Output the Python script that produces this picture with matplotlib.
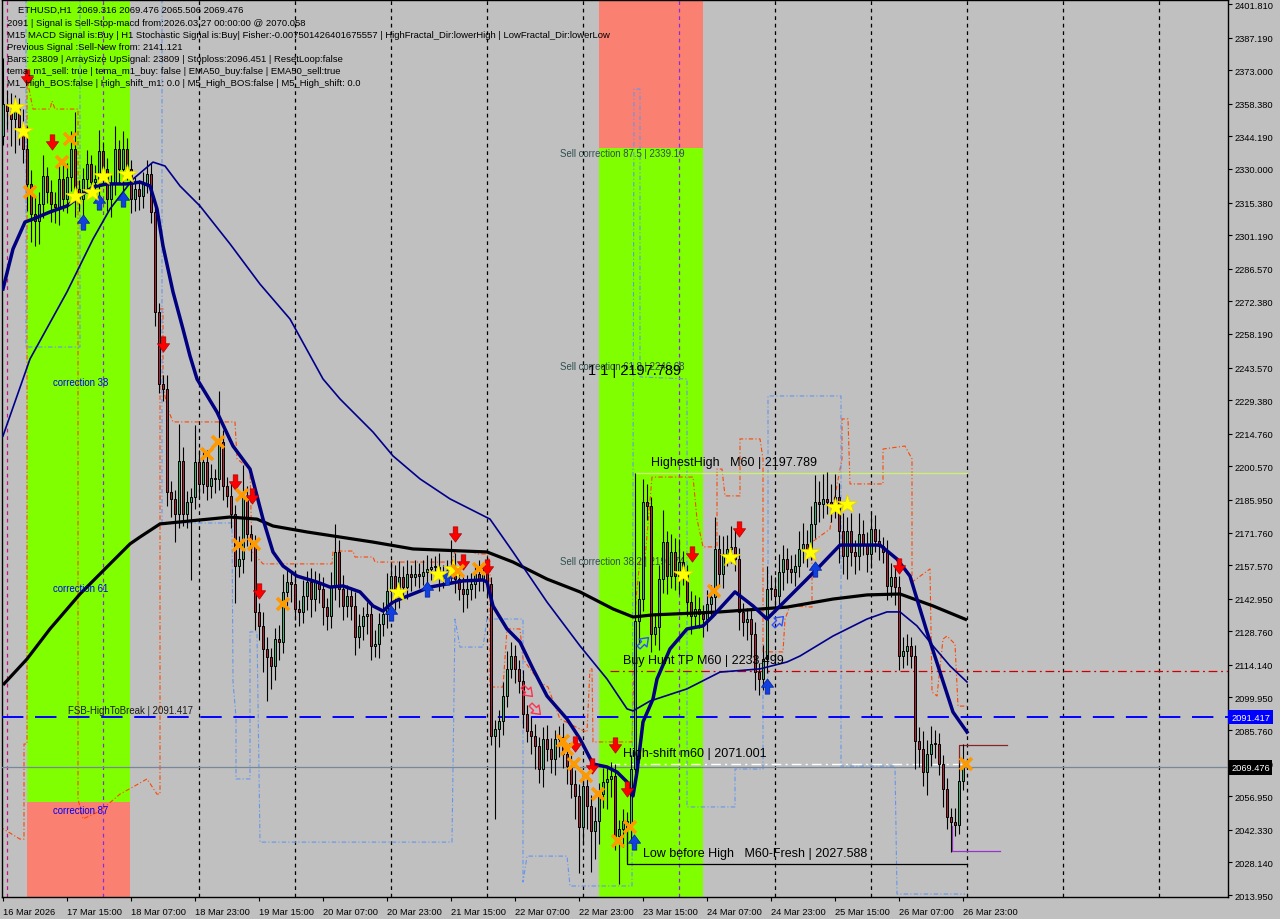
import numpy as np
import matplotlib
matplotlib.use("Agg")
import matplotlib.pyplot as plt
from matplotlib.patches import Rectangle
from matplotlib.path import Path
from matplotlib.markers import MarkerStyle
from matplotlib.transforms import Affine2D, blended_transform_factory

plt.rcParams['font.family'] = ['Liberation Sans', 'DejaVu Sans']

# ---------------- data ----------------
x_tick_bars = [0, 16, 32, 48, 64, 80, 96, 112, 128, 144, 160, 176, 192, 208, 224, 240]
x_tick_labels = ['16 Mar 2026', '17 Mar 15:00', '18 Mar 07:00', '18 Mar 23:00', '19 Mar 15:00',
                 '20 Mar 07:00', '20 Mar 23:00', '21 Mar 15:00', '22 Mar 07:00', '22 Mar 23:00',
                 '23 Mar 15:00', '24 Mar 07:00', '24 Mar 23:00', '25 Mar 15:00', '26 Mar 07:00',
                 '26 Mar 23:00']
price_ticks = [2401.81, 2387.19, 2373.00, 2358.38, 2344.19, 2330.00, 2315.38, 2301.19, 2286.57,
               2272.38, 2258.19, 2243.57, 2229.38, 2214.76, 2200.57, 2185.95, 2171.76, 2157.57,
               2142.95, 2128.76, 2114.14, 2099.95, 2085.76, 2071.14, 2056.95, 2042.33, 2028.14,
               2013.95]

first_open = 2344.4
closes = [
    2358.3, 2355.2, 2351.8, 2356.1, 2348.3, 2338.7, 2323.5, 2310.4, 2307.4, 2314.8,
    2327.0, 2320.0, 2314.8, 2313.5, 2325.6, 2316.9, 2326.5, 2338.7, 2321.3, 2316.9,
    2325.6, 2332.2, 2324.3, 2325.6, 2337.8, 2330.0, 2316.9, 2323.5, 2338.7, 2330.0,
    2338.7, 2330.0, 2316.9, 2321.3, 2318.2, 2323.5, 2327.8, 2311.3, 2267.8, 2236.4,
    2234.2, 2189.4, 2186.3, 2179.8, 2202.9, 2179.8, 2185.0, 2187.2, 2202.5, 2192.9,
    2202.5, 2192.0, 2195.5, 2195.1, 2211.2, 2192.0, 2187.7, 2179.8, 2157.2, 2160.2,
    2187.2, 2171.1, 2165.5, 2137.2, 2131.1, 2121.1, 2117.6, 2113.7, 2125.4, 2124.1,
    2145.9, 2150.2, 2149.3, 2138.5, 2137.2, 2144.1, 2150.2, 2142.8, 2150.2, 2147.2,
    2139.3, 2135.4, 2148.5, 2163.3, 2147.2, 2139.8, 2144.1, 2139.8, 2126.3, 2131.1,
    2135.4, 2136.3, 2122.4, 2123.2, 2131.9, 2136.3, 2146.3, 2152.8, 2144.1, 2152.4,
    2148.0, 2153.7, 2152.4, 2153.7, 2152.8, 2154.6, 2155.9, 2156.7, 2156.7, 2152.4,
    2153.7, 2155.0, 2156.7, 2151.5, 2147.2, 2145.0, 2147.2, 2149.3, 2153.7, 2151.5,
    2153.7, 2149.3, 2083.2, 2086.2, 2089.7, 2100.6, 2112.3, 2118.0, 2112.3, 2107.1,
    2092.8, 2085.4, 2083.2, 2078.8, 2068.8, 2081.9, 2077.5, 2073.2, 2081.9, 2082.7,
    2075.3, 2070.1, 2062.3, 2057.1, 2043.6, 2061.4, 2052.7, 2041.8, 2046.2, 2057.9,
    2063.2, 2064.5, 2065.8, 2039.7, 2042.7, 2046.2, 2042.7, 2068.8, 2133.2, 2142.8,
    2185.0, 2183.3, 2127.6, 2130.6, 2151.5, 2167.6, 2152.8, 2163.3, 2152.8, 2158.9,
    2153.7, 2141.5, 2135.4, 2138.5, 2136.3, 2134.1, 2140.6, 2143.7, 2164.6, 2153.7,
    2162.4, 2164.6, 2165.5, 2160.2, 2137.2, 2132.8, 2134.1, 2127.6, 2111.0, 2108.0,
    2116.7, 2147.2, 2147.2, 2144.1, 2154.6, 2160.2, 2155.9, 2154.6, 2157.2, 2164.6,
    2166.8, 2164.6, 2175.5, 2185.0, 2184.2, 2186.3, 2185.0, 2184.2, 2187.2, 2172.4,
    2161.5, 2172.4, 2163.3, 2161.5, 2171.1, 2166.8, 2162.4, 2173.3, 2168.1, 2165.9,
    2163.3, 2148.5, 2152.4, 2148.0, 2118.0, 2120.2, 2122.4, 2118.0, 2081.0, 2077.5,
    2067.5, 2075.3, 2079.7, 2079.7, 2071.0, 2060.1, 2047.9, 2045.7, 2044.5, 2063.6,
    2069.5]
upper_wick = [
    20, 6, 8, 6, 5, 8, 10, 6, 8, 5, 9, 4, 5, 5, 7, 8, 6, 8, 16, 4,
    5, 6, 4, 6, 9, 4, 5, 4, 10, 4, 8, 5, 4, 5, 4, 5, 6, 5, 3, 4,
    4, 6, 5, 4, 16, 6, 5, 4, 16, 5, 6, 5, 6, 4, 22, 5, 4, 5, 4, 10,
    14, 5, 4, 5, 4, 6, 5, 4, 5, 6, 8, 6, 5, 6, 4, 7, 5, 6, 5, 4,
    5, 4, 6, 12, 5, 6, 5, 4, 6, 5, 4, 5, 4, 6, 5, 5, 8, 6, 5, 7,
    5, 6, 4, 6, 5, 5, 6, 4, 5, 6, 4, 5, 12, 6, 4, 5, 6, 5, 4, 6,
    5, 4, 3, 4, 5, 6, 8, 6, 5, 4, 5, 4, 6, 5, 4, 5, 6, 5, 4, 5,
    6, 4, 5, 6, 5, 6, 4, 5, 6, 5, 6, 5, 6, 5, 4, 5, 4, 6, 64.6, 8,
    10, 8, 4, 6, 6, 14, 5, 8, 6, 10, 5, 4, 5, 6, 5, 4, 6, 5, 14, 6,
    8, 6, 9, 8, 5, 4, 5, 4, 5, 4, 6, 10, 6, 5, 8, 6, 5, 6, 5, 8,
    9, 6, 8, 12, 9, 11, 12, 8, 10, 6, 8, 6, 8, 5, 9, 6, 5, 8, 6, 5,
    4, 5, 6, 5, 5, 6, 5, 4, 5, 6, 8, 6, 8, 6, 5, 4, 5, 4, 6, 8,
    10]
lower_wick = [
    4, 8, 12, 15, 8, 6, 12, 12, 11, 10, 6, 5, 8, 7, 8, 5, 6, 6, 12, 5,
    8, 6, 6, 5, 8, 6, 5, 8, 5, 6, 10, 5, 6, 5, 6, 5, 4, 5, 6, 4,
    5, 6, 8, 12, 6, 5, 6, 34, 5, 6, 4, 6, 5, 6, 5, 6, 5, 6, 16, 5,
    6, 5, 6, 8, 6, 10, 19, 10, 6, 8, 5, 6, 8, 5, 6, 5, 6, 8, 5, 6,
    8, 6, 5, 6, 8, 6, 5, 6, 8, 5, 6, 8, 6, 5, 6, 5, 6, 5, 6, 5,
    4, 5, 6, 4, 5, 4, 6, 5, 4, 6, 5, 4, 5, 6, 5, 8, 6, 5, 6, 5,
    5, 6, 4, 36, 8, 6, 5, 4, 6, 5, 6, 5, 8, 10, 6, 8, 5, 6, 7, 8,
    6, 8, 6, 10, 20, 8, 10, 18, 12, 10, 6, 12, 8, 6, 21, 8, 14, 6, 8, 10,
    5, 6, 8, 5, 10, 6, 8, 5, 6, 8, 5, 6, 8, 5, 6, 8, 5, 6, 8, 5,
    6, 5, 6, 5, 8, 6, 8, 10, 8, 7, 5, 6, 5, 6, 5, 8, 6, 5, 6, 5,
    6, 8, 5, 6, 8, 6, 5, 8, 6, 14, 8, 10, 6, 8, 6, 5, 8, 6, 5, 6,
    5, 6, 5, 8, 6, 5, 6, 5, 12, 8, 6, 10, 5, 6, 5, 8, 5, 13, 5, 4,
    4]

# moving averages (bar index, price)
ema_fast_bar = [0, 2.5, 5.5, 7.5, 11.75, 16, 19.25, 22.5, 26, 31, 34.25, 36.75, 38.5, 40, 42.5, 45,
                46.75, 48.5, 53.5, 57.5, 61.75, 65, 67.5, 70, 73.5, 78.5, 81.75, 85, 89.25, 92.5,
                95, 97.5, 99.25, 106.75, 115, 120, 121, 122.5, 126, 129.25, 132.5, 136, 141,
                144.25, 147.5, 151, 153.5, 156, 157.5, 158.5, 160, 162.5, 163.5, 166.75, 171, 175,
                177.5, 183, 187.5, 191, 196, 201, 204.25, 209.25, 219.25, 223.5, 226.75, 229.25,
                231, 234.25, 237.5, 241]
ema_fast_val = [2277.8, 2295.2, 2306.9, 2308.2, 2311.3, 2313.9, 2318.2, 2322.2, 2323.5, 2323.5,
                2324.3, 2322.6, 2312.6, 2296.5, 2276.5, 2260.3, 2248.6, 2238.6, 2224.2, 2209.4,
                2199.4, 2177.6, 2163.3, 2157.2, 2152.8, 2150.2, 2148.0, 2148.5, 2145.9, 2139.8,
                2137.6, 2141.5, 2142.8, 2148.0, 2150.7, 2151.1, 2150.2, 2139.8, 2129.8, 2124.1,
                2112.4, 2100.6, 2090.6, 2081.9, 2071.0, 2069.7, 2067.5, 2063.2, 2057.1, 2067.5,
                2089.3, 2099.3, 2108.0, 2121.1, 2129.8, 2131.1, 2135.4, 2145.9, 2139.8, 2134.1,
                2142.8, 2151.5, 2157.2, 2166.3, 2166.3, 2160.2, 2152.8, 2138.5, 2128.5, 2111.0,
                2093.6, 2084.9]
ema_mid_bar = [0, 6.75, 16, 22.5, 26.75, 32.5, 37.5, 40.5, 44.25, 49.25, 56.75, 64.25, 71.75, 80,
               84.25, 92.5, 97.5, 104.25, 111.75, 121.75, 127.5, 136, 144.25, 151, 156, 157.5,
               161.75, 171, 179.25, 189.25, 196, 199.25, 207.5, 216, 221, 224.25, 228.5, 232.5,
               236.75, 241]
ema_mid_val = [2213.8, 2247.3, 2276.5, 2299.5, 2312.6, 2325.6, 2333.0, 2331.3, 2322.6, 2313.9,
               2297.4, 2279.9, 2264.7, 2238.6, 2229.9, 2215.5, 2205.1, 2195.1, 2186.4, 2177.6,
               2163.3, 2141.5, 2122.4, 2108.0, 2095.0, 2094.1, 2098.4, 2103.7, 2111.0, 2112.4,
               2115.4, 2118.0, 2126.7, 2134.1, 2137.2, 2137.2, 2131.1, 2122.4, 2113.7, 2106.7]
ma_slow_bar = [0, 6, 11.75, 19.25, 26.75, 31.75, 34.25, 39.25, 46.75, 56.75, 63.5, 67.5, 76, 84.25,
               92.5, 102.5, 121, 127.5, 136, 144.25, 152.5, 157.5, 162.5, 179.25, 196, 207.5, 216,
               224.25, 232.5, 241]
ma_slow_val = [2105.4, 2116.7, 2129.8, 2145.0, 2158.1, 2166.8, 2169.8, 2175.5, 2176.8, 2178.5,
               2177.6, 2174.6, 2172.0, 2169.8, 2167.6, 2164.6, 2163.3, 2158.9, 2151.5, 2145.9,
               2138.5, 2135.0, 2135.9, 2137.2, 2139.3, 2142.8, 2144.6, 2145.0, 2139.8, 2133.7]

# fractal channel step lines
upper_band_bar = [-0.75, 4.25, 5.25, 5.25, 6, 6, 7.5, 11.75, 12.25, 13, 18.75, 18.75, 20, 24.25,
                  29.25, 32.5, 36, 38.5, 39.25, 39.25, 40, 40, 41, 42.5, 58, 58.5, 61.75, 62.25,
                  65, 82.25, 82.5, 87.5, 88, 92.5, 93, 112.25, 113, 116.75, 118.75, 121, 121.75,
                  121.75, 125, 126, 129.25, 130, 131.75, 134.25, 136.25, 138, 139.25, 144.25, 146,
                  146.75, 147.25, 147.5, 157.25, 158.25, 159.25, 160.5, 162.25, 172.5, 173.5, 175,
                  178.5, 178.5, 179.75, 180.5, 184.25, 184.25, 189.25, 190, 190, 195, 195.5,
                  196.75, 202.25, 202.25, 206.75, 207.5, 209.75, 209.75, 211.25, 211.75, 220, 220,
                  225.5, 227.25, 227.25, 231.75, 232.25, 233.5, 235, 236, 238, 238.75, 241]
upper_band_val = [2043.6, 2038.3, 2038.3, 2079.7, 2079.7, 2369.2, 2356.1, 2356.1, 2359.6, 2356.1,
                  2356.1, 2055.8, 2047.1, 2050.5, 2057.9, 2061.0, 2064.5, 2057.9, 2057.9, 2269.1,
                  2269.1, 2236.4, 2226.4, 2219.9, 2219.9, 2203.8, 2199.4, 2163.3, 2158.1, 2158.1,
                  2163.7, 2163.7, 2161.1, 2161.1, 2158.9, 2158.9, 2163.7, 2163.7, 2162.4, 2162.4,
                  2158.9, 2104.5, 2104.5, 2129.8, 2129.8, 2116.7, 2112.4, 2106.7, 2104.5, 2096.2,
                  2090.6, 2086.2, 2084.9, 2112.4, 2112.4, 2080.6, 2080.6, 2142.8, 2160.2, 2160.2,
                  2195.9, 2195.9, 2177.6, 2165.5, 2165.5, 2199.4, 2199.4, 2187.7, 2187.7, 2212.5,
                  2212.5, 2203.8, 2119.8, 2119.8, 2134.1, 2139.8, 2139.3, 2167.6, 2173.3, 2183.3,
                  2203.8, 2221.2, 2221.2, 2192.9, 2192.9, 2208.1, 2209.4, 2203.8, 2150.2, 2155.9,
                  2102.3, 2100.6, 2125.4, 2126.7, 2123.2, 2096.2, 2096.2]
lower_band_bar = [5.75, 5.75, 19.25, 19.25, 39.75, 39.75, 57.25, 57.5, 58.25, 58.25,
                  61.75, 61.75, 63.5, 64.25, 112.25, 113, 114.25, 120, 121, 130, 130, 131, 141,
                  141.75, 157.25, 157.75, 159.25, 159.25, 171, 171, 183, 183, 190, 190, 191.25,
                  191.25, 209.5, 209.5, 223, 223.5, 240.5]
lower_band_val = [2406.2, 2252.5, 2252.5, 2406.2, 2406.2, 2175.9, 2175.9, 2106.7,
                  2091.5, 2064.5, 2064.5, 2128.5, 2128.5, 2037.0, 2037.0, 2134.1, 2121.9, 2121.9,
                  2134.1, 2134.1, 2019.6, 2030.9, 2030.9, 2017.9, 2017.9, 2364.8, 2364.8, 2239.5,
                  2238.6, 2052.3, 2052.3, 2068.8, 2068.8, 2106.7, 2106.7, 2231.2, 2231.2, 2070.1,
                  2070.1, 2014.4, 2014.4]

# signals
sell_bar = [6, 12.25, 40, 58, 62.25, 64, 113, 115, 121, 143, 147.25, 153, 156, 172.25, 184, 224]
sell_val = [2370.0, 2341.8, 2253.8, 2193.7, 2187.7, 2146.3, 2171.1, 2158.9, 2156.7, 2079.7,
            2070.1, 2079.3, 2060.1, 2162.4, 2173.3, 2157.2]
buy_bar = [20, 24, 30, 97, 106, 111, 157.75, 191, 203]
buy_val = [2306.9, 2315.6, 2316.9, 2136.7, 2147.2, 2152.4, 2037.0, 2104.9, 2155.9]
star_bar = [3, 5, 18, 22.25, 25, 31, 98.75, 108.75, 112.5, 170, 181.75, 201.75, 208, 211]
star_val = [2357.0, 2346.5, 2318.2, 2320.0, 2327.0, 2327.8, 2145.9, 2153.7, 2155.9, 2153.7,
            2161.1, 2163.3, 2182.9, 2184.2]
cross_bar = [6.75, 14.75, 16.75, 51, 53.75, 59.75, 59, 62.75, 70, 113.75, 119, 140, 141, 142.75,
             145.75, 148.75, 153.75, 156.75, 177.75, 240.75]
cross_val = [2320.0, 2333.0, 2343.1, 2205.9, 2211.2, 2188.1, 2166.3, 2166.8, 2140.6, 2155.0,
             2155.9, 2081.0, 2077.5, 2071.0, 2065.8, 2057.9, 2037.5, 2043.6, 2146.3, 2071.0]
hollow_sell_bar = [131, 133]
hollow_sell_val = [2102.8, 2094.9]
hollow_buy_bar = [160, 193.75]
hollow_buy_val = [2124.1, 2133.2]

# levels / zones
fsb_level = 2091.417
bid_level = 2069.476
buy_hunt_level = 2111.5
high_shift_level = 2071.001
highest_high = 2197.789
low_before_high = 2027.588
zone1 = (6, 31.75, 2054.5)        # start bar, end bar, split price
zone2 = (149, 175, 2339.19)
day_separators = [1, 25, 49, 73, 97, 121, 145, 169, 193, 217, 241, 265, 289]

info_lines = [
    "ETHUSD,H1  2069.316 2069.476 2065.506 2069.476",
    "2091 | Signal is Sell-Stop-macd from:2026.03.27 00:00:00 @ 2070.058",
    "M15 MACD Signal is:Buy | H1 Stochastic Signal is:Buy| Fisher:-0.007501426401675557 | HighFractal_Dir:lowerHigh | LowFractal_Dir:lowerLow",
    "Previous Signal :Sell-New from: 2141.121",
    "Bars: 23809 | ArraySize UpSignal: 23809 | Stoploss:2096.451 | ResetLoop:false",
    "tema_m1_sell: true | tema_m1_buy: false | EMA50_buy:false | EMA50_sell:true",
    "M1_High_BOS:false | High_shift_m1: 0.0 | M5_High_BOS:false | M5_High_shift: 0.0",
]

# ---------------- figure ----------------
W, H = 1280, 920
BG = '#C0C0C0'
fig = plt.figure(figsize=(W / 100, H / 100), dpi=100, facecolor=BG)
ax = fig.add_axes([2 / W, (H - 898) / H, (1228 - 2) / W, (898 - 1) / H])
ax.set_facecolor(BG)
ymax = 2404 - 0.4353 * 1
ymin = 2404 - 0.4353 * 898
ax.set_xlim(-0.25, 306.25)
ax.set_ylim(ymin, ymax)

# zones
ax.add_patch(Rectangle((zone1[0], zone1[2]), zone1[1] - zone1[0], ymax - zone1[2], fc='#7FFF00', ec='none', zorder=0))
ax.add_patch(Rectangle((zone1[0], ymin), zone1[1] - zone1[0], zone1[2] - ymin, fc='#FA8072', ec='none', zorder=0))
ax.add_patch(Rectangle((zone2[0], zone2[2]), zone2[1] - zone2[0], ymax - zone2[2], fc='#FA8072', ec='none', zorder=0))
ax.add_patch(Rectangle((zone2[0], ymin), zone2[1] - zone2[0], zone2[2] - ymin, fc='#7FFF00', ec='none', zorder=0))

# day separators
for b in day_separators:
    inside = (zone1[0] <= b <= zone1[1]) or (zone2[0] <= b <= zone2[1])
    col = '#8A2BE2' if inside else 'black'
    if b == 1:
        col = '#C71585'
    ax.axvline(b, color=col, lw=0.9, ls=(0, (3, 3)), zorder=1)

# level lines
ax.axhline(fsb_level, color='#0000FF', lw=1.4, ls=(0, (11, 6)), zorder=3)
ax.axhline(bid_level, color='#778899', lw=0.9, zorder=3)
ax.plot([151.75, 306.25], [buy_hunt_level] * 2, color='#CC0000', lw=0.9, ls=(0, (7, 3, 1.5, 3)), zorder=3)
ax.plot([151.75, 240], [high_shift_level] * 2, color='white', lw=1.0, ls=(0, (7, 3, 1.5, 3)), zorder=3)
ax.plot([158.25, 241], [highest_high] * 2, color='#CCEE77', lw=1.0, zorder=3)
ax.plot([156, 156, 241], [2044.0, low_before_high, low_before_high], color='black', lw=0.9, zorder=3)
ax.plot([239, 239, 251], [bid_level, 2079.3, 2079.3], color='#8B2323', lw=0.9, zorder=3)
ax.plot([237.25, 237.25, 249.25], [2044.0, 2033.1, 2033.1], color='#9932CC', lw=0.9, zorder=3)

# channel lines
ax.plot(upper_band_bar, upper_band_val, color='#FF4500', lw=0.8, ls=(0, (4, 2, 1, 2)), zorder=2)
ax.plot(lower_band_bar, lower_band_val, color='#6495ED', lw=0.8, ls=(0, (4, 2, 1, 2)), zorder=2)

# candles
c = np.array(closes)
o = np.concatenate([[first_open], c[:-1]])
hi = np.maximum(o, c) + np.array(upper_wick)
lo = np.minimum(o, c) - np.array(lower_wick)
idx = np.arange(len(c))
up = c >= o
ax.vlines(idx, lo, hi, color='black', lw=0.8, zorder=4)
body = np.maximum(np.abs(c - o), 0.6)
ax.bar(idx[up], body[up], bottom=o[up], width=0.74, color='#3CB371', edgecolor='black', lw=0.7, zorder=5)
ax.bar(idx[~up], body[~up], bottom=c[~up], width=0.74, color='#B22234', edgecolor='black', lw=0.7, zorder=5)

# moving averages
ax.plot(ma_slow_bar, ma_slow_val, color='black', lw=2.3, zorder=6, solid_capstyle='butt')
ax.plot(ema_mid_bar, ema_mid_val, color='#00008B', lw=1.2, zorder=6)
ax.plot(ema_fast_bar, ema_fast_val, color='#000080', lw=2.5, zorder=6)

# markers
down_verts = [(-0.3, 1), (0.3, 1), (0.3, 0.1), (0.8, 0.1), (0, -1), (-0.8, 0.1), (-0.3, 0.1), (-0.3, 1)]
codes = [Path.MOVETO] + [Path.LINETO] * 6 + [Path.CLOSEPOLY]
down_path = Path(down_verts, codes)
up_path = Path([(x, -y) for x, y in down_verts], codes)
ax.plot(sell_bar, sell_val, ls='none', marker=down_path, ms=11, mfc='#FF0000', mec='#B00000', mew=0.5, zorder=8)
ax.plot(buy_bar, buy_val, ls='none', marker=up_path, ms=11, mfc='#1040E0', mec='#0020A0', mew=0.5, zorder=8)
ax.plot(star_bar, star_val, ls='none', marker='*', ms=15, mfc='#FFFF00', mec='#E8D000', mew=0.5, zorder=8)
ax.plot(cross_bar, cross_val, ls='none', marker='x', ms=8, mec='#FF9900', mew=2.6, zorder=8)
ax.plot(hollow_sell_bar, hollow_sell_val, ls='none',
        marker=MarkerStyle(down_path, transform=Affine2D().rotate_deg(45)), ms=10,
        mfc='none', mec='#FF3050', mew=1.0, zorder=8)
ax.plot(hollow_buy_bar, hollow_buy_val, ls='none',
        marker=MarkerStyle(up_path, transform=Affine2D().rotate_deg(-45)), ms=10,
        mfc='none', mec='#3050FF', mew=1.0, zorder=8)

# chart labels
small = dict(fontsize=6.9, va='center', ha='left', zorder=7)
ax.text(12.5, 2237.3, 'correction 38', color='#0000FF', **small)
ax.text(12.5, 2147.6, 'correction 61', color='#0000FF', **small)
ax.text(12.5, 2051.0, 'correction 87', color='#0000FF', **small)
ax.text(16.25, 2094.3, 'FSB-HighToBreak | 2091.417', color='#1A1A1A', **small)
ax.text(139.25, 2337.0, 'Sell correction 87.5 | 2339.19', color='#2F4F4F', **small)
ax.text(139.25, 2244.2, 'Sell correction 61.8 | 2246.68', color='#2F4F4F', **small)
ax.text(139.25, 2159.4, 'Sell correction 38.2 | 2191.74', color='#2F4F4F', **{**small, 'zorder': 3})
big = dict(fontsize=9, va='center', ha='left', color='black', zorder=9)
ax.text(146.25, 2242.5, '1 1 | 2197.789', fontsize=10.5, va='center', ha='left', color='black', zorder=9)
ax.text(162, 2202.5, 'HighestHigh   M60 | 2197.789', **big)
ax.text(155, 2116.3, 'Buy Hunt TP M60 | 2233.499', **big)
ax.text(155, 2075.8, 'High-shift m60 | 2071.001', **big)
ax.text(160, 2032.2, 'Low before High   M60-Fresh | 2027.588', **big)

# axes styling
for s in ax.spines.values():
    s.set_color('black')
    s.set_linewidth(1.0)
ax.yaxis.tick_right()
ax.set_yticks(price_ticks)
ax.set_yticklabels(['%.3f' % p for p in price_ticks])
ax.tick_params(axis='y', direction='out', length=3, width=0.8, pad=2, labelsize=6.7, colors='black')
ax.set_xticks(x_tick_bars)
ax.set_xticklabels(x_tick_labels)
ax.tick_params(axis='x', direction='out', length=3, width=0.8, pad=4, labelsize=6.7, colors='black')
for lbl in ax.get_xticklabels():
    lbl.set_ha('left')

# price tags on the axis
trans = blended_transform_factory(ax.transAxes, ax.transData)
ax.text(1.0025, fsb_level, '2091.417', transform=trans, color='white', fontsize=6.7, va='center',
        ha='left', clip_on=False, zorder=12,
        bbox=dict(boxstyle='square,pad=0.3', fc='#0000FF', ec='none'))
ax.text(1.0025, bid_level, '2069.476', transform=trans, color='white', fontsize=6.7, va='center',
        ha='left', clip_on=False, zorder=12,
        bbox=dict(boxstyle='square,pad=0.3', fc='black', ec='none'))

# info text (top-left)
info_y = [10, 23, 35, 47, 59, 72, 84]
for k, (line, yy) in enumerate(zip(info_lines, info_y)):
    fig.text((18 if k == 0 else 7) / W, 1 - yy / H, line, fontsize=6.8, color='black',
             va='center', ha='left', zorder=20)

fig.savefig('out.png', dpi=100, facecolor=BG)
